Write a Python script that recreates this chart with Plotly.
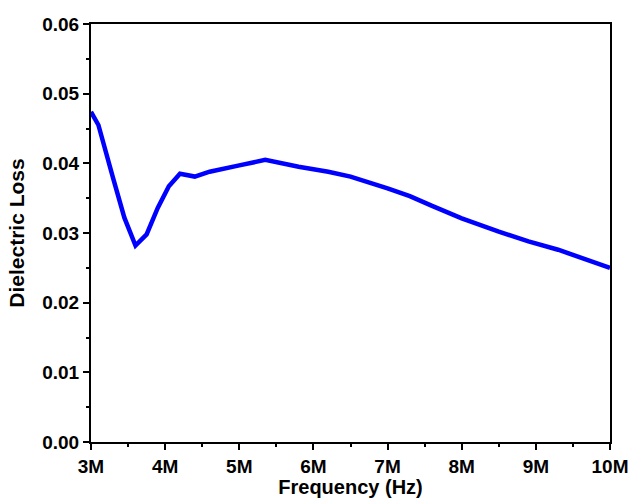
import plotly.graph_objects as go

freq_mhz = [3.0, 3.1, 3.3, 3.45, 3.6, 3.75, 3.9, 4.05, 4.2, 4.4, 4.6, 4.8, 5.0, 5.35,
            5.8, 6.2, 6.5, 7.0, 7.3, 7.6, 8.0, 8.5, 8.9, 9.3, 9.5, 10.0]
loss = [0.0474, 0.0455, 0.0378, 0.0322, 0.0282, 0.0298, 0.0336, 0.0367, 0.0385, 0.0381,
        0.0388, 0.0393, 0.0397, 0.0405, 0.0395, 0.0388, 0.0381, 0.0364, 0.0353, 0.0339,
        0.0321, 0.0302, 0.0288, 0.0276, 0.0269, 0.0250]

x_tick_vals = [3e6, 4e6, 5e6, 6e6, 7e6, 8e6, 9e6, 10e6]
x_tick_text = ["3M", "4M", "5M", "6M", "7M", "8M", "9M", "10M"]
y_tick_vals = [0.00, 0.01, 0.02, 0.03, 0.04, 0.05, 0.06]
y_tick_text = ["0.00", "0.01", "0.02", "0.03", "0.04", "0.05", "0.06"]

freq_hz = [f * 1e6 for f in freq_mhz]

FAM = "Liberation Sans, Arial, sans-serif"

fig = go.Figure()
fig.add_trace(go.Scatter(x=freq_hz, y=loss, mode="lines",
                         line=dict(color="#0000FF", width=4.5), showlegend=False))

fig.update_layout(
    width=632, height=498,
    margin=dict(l=91, r=22, t=24, b=56),
    paper_bgcolor="white", plot_bgcolor="white",
    font=dict(family=FAM, size=19, color="black"),
)
fig.update_xaxes(
    range=[3e6, 10e6], tickmode="array", tickvals=x_tick_vals, ticktext=x_tick_text,
    showline=True, linecolor="black", linewidth=2, mirror=True,
    ticks="outside", ticklen=6, tickwidth=2, tickcolor="black",
    showgrid=False, zeroline=False, automargin=False,
    tickfont=dict(family=FAM, size=19, color="black", weight="bold"),
    minor=dict(tickmode="linear", tick0=3e6, dtick=0.5e6, ticks="outside",
               ticklen=3, tickwidth=2, tickcolor="black", showgrid=False),
    title=dict(text="<b>Frequency (Hz)</b>", standoff=0,
               font=dict(family=FAM, size=20, color="black")),
)
fig.update_yaxes(
    range=[0, 0.06], tickmode="array", tickvals=y_tick_vals, ticktext=y_tick_text,
    showline=True, linecolor="black", linewidth=2, mirror=True,
    ticks="outside", ticklen=6, tickwidth=2, tickcolor="black",
    showgrid=False, zeroline=False, automargin=False,
    tickfont=dict(family=FAM, size=19, color="black", weight="bold"),
    minor=dict(tickmode="linear", tick0=0, dtick=0.005, ticks="outside",
               ticklen=3, tickwidth=2, tickcolor="black", showgrid=False),
    title=dict(text="<b>Dielectric Loss</b>", standoff=12,
               font=dict(family=FAM, size=21, color="black")),
)

fig.write_html("out.html", config={"displayModeBar": False},
               post_script="document.body.style.margin='0';document.body.style.padding='0';document.body.style.overflow='hidden';")
